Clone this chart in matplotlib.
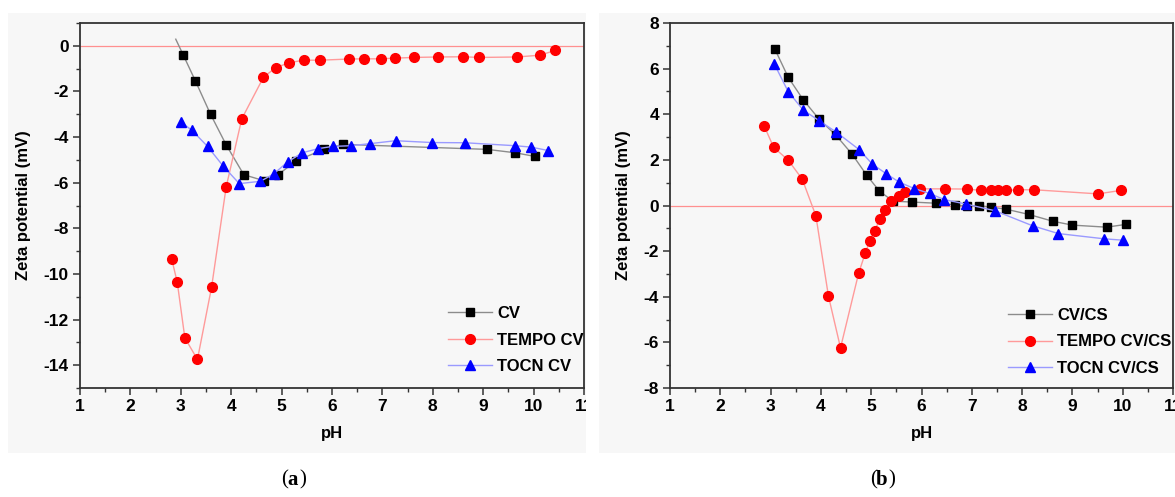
import numpy as np
import matplotlib
matplotlib.use("Agg")
from matplotlib import pyplot as plt
from matplotlib.patches import Rectangle
from matplotlib.ticker import MultipleLocator
from matplotlib.transforms import Bbox

plt.rcParams["font.family"] = ["Liberation Sans", "DejaVu Sans"]
plt.rcParams["font.weight"] = "bold"
plt.rcParams["axes.unicode_minus"] = False

# panel (a)
cv_ph = [2.90, 3.05, 3.29, 3.59, 3.90, 4.25, 4.66, 4.93, 5.29, 5.84, 6.22, 9.08, 9.64, 10.03]
cv_z = [0.29, -0.41, -1.54, -3.00, -4.34, -5.65, -5.92, -5.65, -5.04, -4.54, -4.32, -4.54, -4.69, -4.85]
tempo_ph = [2.82, 2.93, 3.08, 3.33, 3.61, 3.90, 4.21, 4.64, 4.88, 5.15, 5.44, 5.77, 6.33, 6.64,
            6.97, 7.25, 7.62, 8.10, 8.60, 8.92, 9.67, 10.13, 10.43]
tempo_z = [-9.35, -10.37, -12.80, -13.75, -10.59, -6.19, -3.20, -1.38, -0.96, -0.74, -0.63, -0.63,
           -0.58, -0.57, -0.57, -0.54, -0.51, -0.49, -0.48, -0.51, -0.49, -0.41, -0.20]
tocn_ph = [3.01, 3.22, 3.53, 3.84, 4.16, 4.58, 4.84, 5.12, 5.41, 5.72, 6.01, 6.37, 6.75, 7.26,
           7.98, 8.64, 9.64, 9.95, 10.29]
tocn_z = [-3.36, -3.70, -4.41, -5.27, -6.04, -5.94, -5.62, -5.09, -4.69, -4.51, -4.41, -4.38,
          -4.29, -4.16, -4.24, -4.25, -4.38, -4.44, -4.59]

# panel (b)
cvcs_ph = [3.08, 3.35, 3.65, 3.97, 4.30, 4.62, 4.91, 5.16, 5.43, 5.82, 6.29, 6.66, 6.91, 7.14,
           7.38, 7.68, 8.13, 8.61, 9.00, 9.68, 10.06]
cvcs_z = [6.88, 5.62, 4.63, 3.77, 3.08, 2.25, 1.33, 0.64, 0.19, 0.15, 0.10, 0.03, -0.03, -0.01,
          -0.07, -0.16, -0.39, -0.69, -0.86, -0.95, -0.83]
tempocs_ph = [2.87, 3.06, 3.35, 3.63, 3.90, 4.15, 4.39, 4.75, 4.88, 4.97, 5.07, 5.17, 5.28, 5.40,
              5.55, 5.68, 5.97, 6.47, 6.90, 7.19, 7.38, 7.52, 7.68, 7.92, 8.24, 9.51, 9.96]
tempocs_z = [3.50, 2.55, 1.99, 1.15, -0.45, -3.97, -6.24, -2.97, -2.10, -1.56, -1.10, -0.61,
             -0.18, 0.18, 0.42, 0.58, 0.73, 0.73, 0.72, 0.66, 0.66, 0.66, 0.66, 0.69, 0.69, 0.51, 0.66]
tocncs_ph = [3.07, 3.35, 3.65, 3.97, 4.31, 4.76, 5.02, 5.30, 5.56, 5.86, 6.16, 6.45, 6.89, 7.46,
             8.21, 8.72, 9.63, 10.00]
tocncs_z = [6.22, 4.99, 4.18, 3.71, 3.21, 2.45, 1.82, 1.39, 1.02, 0.74, 0.53, 0.26, 0.06, -0.23,
            -0.89, -1.23, -1.46, -1.52]

W, H = 1175, 497
fig = plt.figure(figsize=(W / 100, H / 100), dpi=100)

# light grey panel backgrounds
for x0, x1 in [(8, 586), (599, 1175)]:
    fig.patches.append(Rectangle((x0 / W, 1 - 453 / H), (x1 - x0) / W, 440 / H,
                                 transform=fig.transFigure, facecolor="#f7f7f7",
                                 edgecolor="none", zorder=-10))

def make_axes(left, right):
    return fig.add_axes([left / W, 1 - 388 / H, (right - left) / W, 365 / H])

ax1 = make_axes(80, 584)
ax2 = make_axes(670, 1173)

line_kw = dict(lw=1.0)
ax1.axhline(0, color="#ff9090", lw=0.9, zorder=1)
ax1.plot(cv_ph, cv_z, color="#8c8c8c", marker="s", mfc="black", mec="black", ms=6,
         markevery=list(range(1, len(cv_ph))), label="CV", **line_kw)
ax1.plot(tempo_ph, tempo_z, color="#ff9a9a", marker="o", mfc="red", mec="red", ms=7,
         label="TEMPO CV", **line_kw)
ax1.plot(tocn_ph, tocn_z, color="#9a9aff", marker="^", mfc="blue", mec="blue", ms=7,
         label="TOCN CV", **line_kw)
ax1.set_ylim(-15, 1)
ax1.yaxis.set_major_locator(MultipleLocator(2))
ax1.yaxis.set_minor_locator(MultipleLocator(1))

ax2.axhline(0, color="#ff9090", lw=0.9, zorder=1)
ax2.plot(cvcs_ph, cvcs_z, color="#8c8c8c", marker="s", mfc="black", mec="black", ms=6,
         label="CV/CS", **line_kw)
ax2.plot(tempocs_ph, tempocs_z, color="#ff9a9a", marker="o", mfc="red", mec="red", ms=7,
         label="TEMPO CV/CS", **line_kw)
ax2.plot(tocncs_ph, tocncs_z, color="#9a9aff", marker="^", mfc="blue", mec="blue", ms=7,
         label="TOCN CV/CS", **line_kw)
ax2.set_ylim(-8, 8)
ax2.yaxis.set_major_locator(MultipleLocator(2))
ax2.yaxis.set_minor_locator(MultipleLocator(1))

for ax, ylx, leg_x, leg_y in [(ax1, -0.097, 0.730, 0.224), (ax2, -0.078, 0.672, 0.219)]:
    ax.set_facecolor("none")
    ax.set_xlim(1, 11)
    ax.xaxis.set_major_locator(MultipleLocator(1))
    ax.xaxis.set_minor_locator(MultipleLocator(0.5))
    for s in ax.spines.values():
        s.set_color("#333333")
        s.set_linewidth(1.3)
    ax.tick_params(which="major", direction="out", length=5, width=1.1, color="#333333",
                   labelsize=12.5, pad=3)
    ax.tick_params(which="minor", direction="out", length=3, width=1.0, color="#333333")
    for lab in ax.get_xticklabels() + ax.get_yticklabels():
        lab.set_fontweight("bold")
    ax.set_xlabel("pH", fontsize=12, fontweight="bold")
    ax.set_ylabel("Zeta potential (mV)", fontsize=12, fontweight="bold")
    ax.xaxis.set_label_coords(0.5, -0.105)
    ax.yaxis.set_label_coords(ylx, 0.5)
    ax.legend(loc="upper left", bbox_to_anchor=(leg_x, leg_y), frameon=False,
              prop=dict(size=12, weight="bold"), handlelength=2.65, handletextpad=0.3,
              labelspacing=0.68, borderpad=0, borderaxespad=0)

# clip the "11" label of panel (a) at its grey panel edge
fig.canvas.draw()
clip = Bbox.from_extents(0, 0, 586, H)
for lab in ax1.get_xticklabels():
    lab.set_clip_box(clip)
    lab.set_clip_on(True)

serif = ["Liberation Serif", "DejaVu Serif"]
for cx, letter in [(293, "a"), (882, "b")]:
    fig.text((cx - 5) / W, 1 - 480 / H, "(", family=serif, fontsize=15,
             fontweight="normal", ha="right", va="center")
    fig.text(cx / W, 1 - 480 / H, letter, family=serif, fontsize=15,
             fontweight="bold", ha="center", va="center")
    fig.text((cx + 6) / W, 1 - 480 / H, ")", family=serif, fontsize=15,
             fontweight="normal", ha="left", va="center")

fig.savefig("out.png", dpi=100)
